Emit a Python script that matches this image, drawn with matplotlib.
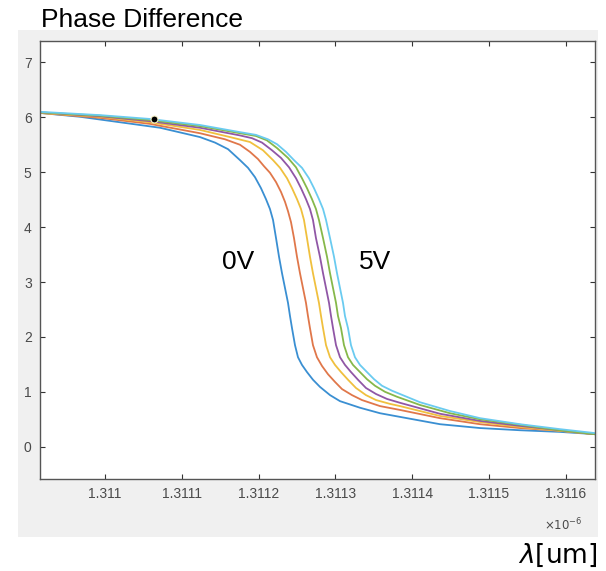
import matplotlib.pyplot as plt
from matplotlib.patches import Rectangle

plt.rcParams['font.family'] = ['Liberation Sans', 'DejaVu Sans']

# wavelength in units of 1e-6 m, phase in rad
wl_0 = [1.3109154, 1.3109674, 1.3110195, 1.3110716, 1.3111237, 1.3111432, 1.3111602,
        1.3111758, 1.3111862, 1.3111953, 1.3112031, 1.3112096, 1.3112148, 1.3112188,
        1.3112227, 1.3112266, 1.3112305, 1.3112344, 1.3112383, 1.3112409, 1.3112435,
        1.3112474, 1.3112513, 1.3112565, 1.3112630, 1.3112708, 1.3112799, 1.3112930,
        1.3113060, 1.3113320, 1.3113581, 1.3113971, 1.3114362, 1.3114883, 1.3115404,
        1.3115924, 1.3116367]
ph_0 = [6.08, 6.01, 5.91, 5.81, 5.64, 5.54, 5.42, 5.22, 5.08, 4.91, 4.71, 4.51, 4.33,
        4.13, 3.80, 3.46, 3.16, 2.89, 2.62, 2.38, 2.16, 1.85, 1.63, 1.49, 1.36, 1.22,
        1.09, 0.94, 0.83, 0.71, 0.61, 0.51, 0.41, 0.34, 0.30, 0.27, 0.23]

wl_1 = [1.3109154, 1.3109935, 1.3110586, 1.3111237, 1.3111562, 1.3111758, 1.3111888,
        1.3111992, 1.3112070, 1.3112148, 1.3112227, 1.3112292, 1.3112344, 1.3112383,
        1.3112422, 1.3112461, 1.3112500, 1.3112539, 1.3112578, 1.3112617, 1.3112643,
        1.3112669, 1.3112708, 1.3112760, 1.3112826, 1.3112904, 1.3112995, 1.3113086,
        1.3113216, 1.3113346, 1.3113581, 1.3113841, 1.3114362, 1.3114883, 1.3115404,
        1.3115924, 1.3116367]
ph_1 = [6.08, 5.99, 5.88, 5.71, 5.60, 5.50, 5.37, 5.24, 5.11, 4.99, 4.82, 4.64, 4.46,
        4.29, 4.09, 3.80, 3.46, 3.16, 2.89, 2.62, 2.38, 2.16, 1.85, 1.63, 1.47, 1.32,
        1.18, 1.05, 0.94, 0.85, 0.74, 0.67, 0.52, 0.41, 0.34, 0.29, 0.23]

wl_2 = [1.3109154, 1.3109935, 1.3110586, 1.3111237, 1.3111628, 1.3111888, 1.3112057,
        1.3112188, 1.3112279, 1.3112370, 1.3112435, 1.3112500, 1.3112552, 1.3112591,
        1.3112630, 1.3112669, 1.3112708, 1.3112747, 1.3112786, 1.3112813, 1.3112839,
        1.3112878, 1.3112930, 1.3112995, 1.3113073, 1.3113164, 1.3113268, 1.3113398,
        1.3113529, 1.3113711, 1.3113841, 1.3114362, 1.3114883, 1.3115404, 1.3115924,
        1.3116367]
ph_2 = [6.08, 6.01, 5.91, 5.77, 5.64, 5.55, 5.40, 5.22, 5.08, 4.89, 4.71, 4.51, 4.33,
        4.13, 3.80, 3.46, 3.16, 2.89, 2.62, 2.38, 2.16, 1.85, 1.63, 1.49, 1.36, 1.22,
        1.07, 0.94, 0.85, 0.78, 0.74, 0.56, 0.45, 0.36, 0.29, 0.23]

wl_3 = [1.3109154, 1.3109935, 1.3110586, 1.3111237, 1.3111758, 1.3111914, 1.3112044,
        1.3112174, 1.3112292, 1.3112396, 1.3112487, 1.3112552, 1.3112617, 1.3112669,
        1.3112708, 1.3112747, 1.3112799, 1.3112839, 1.3112878, 1.3112917, 1.3112943,
        1.3112969, 1.3113008, 1.3113060, 1.3113125, 1.3113203, 1.3113294, 1.3113398,
        1.3113529, 1.3113672, 1.3113841, 1.3114362, 1.3114883, 1.3115404, 1.3115924,
        1.3116367]
ph_3 = [6.09, 6.02, 5.93, 5.81, 5.67, 5.62, 5.54, 5.40, 5.26, 5.09, 4.89, 4.71, 4.51,
        4.33, 4.13, 3.80, 3.46, 3.16, 2.89, 2.62, 2.38, 2.16, 1.85, 1.63, 1.49, 1.36,
        1.22, 1.07, 0.96, 0.87, 0.80, 0.60, 0.47, 0.38, 0.30, 0.23]

wl_4 = [1.3109154, 1.3109935, 1.3110586, 1.3111237, 1.3111758, 1.3111966, 1.3112109,
        1.3112240, 1.3112383, 1.3112487, 1.3112565, 1.3112630, 1.3112695, 1.3112747,
        1.3112786, 1.3112839, 1.3112891, 1.3112930, 1.3112969, 1.3113008, 1.3113034,
        1.3113073, 1.3113112, 1.3113164, 1.3113229, 1.3113320, 1.3113411, 1.3113516,
        1.3113646, 1.3113802, 1.3114102, 1.3114492, 1.3114883, 1.3115404, 1.3115924,
        1.3116367]
ph_4 = [6.09, 6.03, 5.95, 5.84, 5.71, 5.66, 5.58, 5.44, 5.26, 5.09, 4.89, 4.71, 4.51,
        4.33, 4.13, 3.80, 3.46, 3.16, 2.89, 2.62, 2.38, 2.16, 1.85, 1.63, 1.49, 1.36,
        1.23, 1.11, 1.00, 0.91, 0.76, 0.61, 0.50, 0.40, 0.30, 0.23]

wl_5 = [1.3109154, 1.3109935, 1.3110586, 1.3111237, 1.3111758, 1.3111966, 1.3112122,
        1.3112240, 1.3112357, 1.3112461, 1.3112565, 1.3112656, 1.3112721, 1.3112786,
        1.3112839, 1.3112878, 1.3112930, 1.3112982, 1.3113021, 1.3113060, 1.3113099,
        1.3113125, 1.3113164, 1.3113203, 1.3113255, 1.3113320, 1.3113411, 1.3113503,
        1.3113607, 1.3113737, 1.3113841, 1.3114102, 1.3114492, 1.3114883, 1.3115404,
        1.3115924, 1.3116367]
ph_5 = [6.10, 6.04, 5.97, 5.86, 5.73, 5.68, 5.60, 5.51, 5.37, 5.22, 5.08, 4.89, 4.71,
        4.51, 4.33, 4.13, 3.80, 3.46, 3.16, 2.89, 2.62, 2.38, 2.16, 1.85, 1.63, 1.49,
        1.36, 1.23, 1.11, 1.02, 0.96, 0.81, 0.65, 0.52, 0.41, 0.32, 0.25]

tip_wl, tip_ph = 1.3110638, 5.97

xticks = [1.311, 1.3111, 1.3112, 1.3113, 1.3114, 1.3115, 1.3116]
xtick_labels = ['1.311', '1.3111', '1.3112', '1.3113', '1.3114', '1.3115', '1.3116']
yticks = [0, 1, 2, 3, 4, 5, 6, 7]

colors = ['#3a8fd2', '#e0774a', '#f0c03e', '#9057a6', '#86b84a', '#6acbf0']

fig = plt.figure(figsize=(6.06, 5.71), dpi=100)
fig.patches.append(Rectangle((18/606, 1-537/571), 580/606, 507/571,
                             transform=fig.transFigure, facecolor='#f0f0f0',
                             edgecolor='none', zorder=-5))
ax = fig.add_axes([40/606, 1-479/571, 555/606, 438/571])

for wl, ph, c in zip([wl_0, wl_1, wl_2, wl_3, wl_4, wl_5],
                     [ph_0, ph_1, ph_2, ph_3, ph_4, ph_5], colors):
    ax.plot(wl, ph, color=c, lw=1.3, solid_joinstyle='round')
ax.plot(tip_wl, tip_ph, 'o', color='black', ms=5, mec='#f5f0c8', mew=0.8, zorder=5)

ax.text(1.3111732, 3.36, '0V', fontsize=19, ha='center', va='center')
ax.text(1.3113516, 3.36, '5V', fontsize=19, ha='center', va='center')

ax.set_xlim(1.3109154, 1.311638)
ax.set_ylim(-0.588, 7.39)
ax.set_xticks(xticks)
ax.set_xticklabels(xtick_labels)
ax.set_yticks(yticks)
ax.tick_params(direction='in', top=True, right=True, length=3.5, width=0.8,
               labelsize=10, labelcolor='#4a4a4a', color='#333333', pad=6)
for s in ax.spines.values():
    s.set_color('#555555')
    s.set_linewidth(1.0)

ax.text(0.978, -0.085, r'$\times10^{-6}$', transform=ax.transAxes, ha='right',
        va='top', fontsize=8.5, color='#4a4a4a')
fig.text(41/606, 1-27/571, 'Phase Difference', fontsize=19, va='baseline')
fig.text(597/606, 1-563/571, r'$\lambda$[um]', fontsize=19, ha='right', va='baseline',
         family=['DejaVu Sans'])

fig.savefig('out.png', dpi=100)
